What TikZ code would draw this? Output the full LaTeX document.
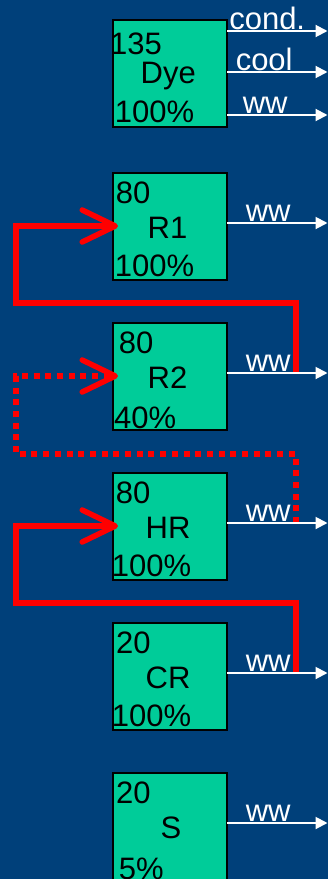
\documentclass[tikz,border=0pt]{standalone}
\usepackage{fontspec}
\setmainfont{Liberation Sans}
\usetikzlibrary{calc,arrows.meta,positioning}
\definecolor{bgblue}{RGB}{0,64,122}
\definecolor{unitgreen}{RGB}{0,204,153}
\tikzset{
  unitbox/.style={draw=black, line width=2pt, fill=unitgreen, minimum width=114pt,
    minimum height=107pt, inner sep=0pt, outer sep=0pt},
  boxtext/.style={anchor=base west, inner sep=0pt, font=\fontsize{31}{36}\selectfont},
  outlet/.style={draw=white, line width=2pt, -{Triangle[length=12pt,width=12pt]}},
  lbl/.style={text=white, anchor=base, inner sep=0pt, yshift=2pt,
    font=\fontsize{31}{36}\selectfont},
  recycle/.style={draw=red, line width=5.5pt, -{Straight Barb[length=33pt,width=32pt,round]}},
  partial/.style={recycle, dash pattern=on 6pt off 5.7pt}
}

\begin{document}
\begin{tikzpicture}[x=1pt, y=-1pt, node distance=43pt]
  \fill[bgblue] (0,0) rectangle (328,879);
  \useasboundingbox (0,0) rectangle (328,879);

  % process units
  \node[unitbox] (dye) at (170,73) {};
  \node[unitbox, below=46pt of dye] (r1) {};
  \node[unitbox, below=of r1] (r2) {};
  \node[unitbox, below=of r2] (hr) {};
  \node[unitbox, below=of hr] (cr) {};
  \node[unitbox, below=of cr] (s) {};

  \node[boxtext] (dyeT) at ($(dye.north west)+(-3,34.5)$) {135};
  \node[boxtext] (dyeN) at ($(dye.north west)+(27.5,63.5)$) {Dye};
  \node[boxtext] (dyeP) at ($(dye.north west)+(1.6,102.5)$) {100\%};

  \node[boxtext] (r1T) at ($(r1.north west)+(2.6,30.5)$) {80};
  \node[boxtext] (r1N) at ($(r1.north west)+(34.5,65.5)$) {R1};
  \node[boxtext] (r1P) at ($(r1.north west)+(1.6,103.5)$) {100\%};

  \node[boxtext] (r2T) at ($(r2.north west)+(5.6,30.5)$) {80};
  \node[boxtext] (r2N) at ($(r2.north west)+(34.5,65.5)$) {R2};
  \node[boxtext] (r2P) at ($(r2.north west)+(1,105.5)$) {40\%};

  \node[boxtext] (hrT) at ($(hr.north west)+(2.6,30.5)$) {80};
  \node[boxtext] (hrN) at ($(hr.north west)+(32.5,65.5)$) {HR};
  \node[boxtext] (hrP) at ($(hr.north west)+(-1.4,103.5)$) {100\%};

  \node[boxtext] (crT) at ($(cr.north west)+(3,30.5)$) {20};
  \node[boxtext] (crN) at ($(cr.north west)+(32.5,65.5)$) {CR};
  \node[boxtext] (crP) at ($(cr.north west)+(-1.4,103.5)$) {100\%};

  \node[boxtext] (sT) at ($(s.north west)+(3,30.5)$) {20};
  \node[boxtext] (sN) at ($(s.north west)+(47.5,65.5)$) {S};
  \node[boxtext] (sP) at ($(s.north west)+(5.6,106.5)$) {5\%};

  % recycled water
  \coordinate (r2tap) at (296,373);
  \coordinate (hrtap) at (296,523);
  \coordinate (crtap) at (296,673);
  \draw[recycle] (r2tap) |- (16,303) |- ([xshift=5pt]r1.west);
  \draw[partial] (hrtap) |- (16,454) |- ([xshift=5pt]r2.west);
  \draw[recycle] (crtap) |- (16,603) |- ([xshift=5pt]hr.west);

  % outlets
  \coordinate (dyeC) at (327.5,31);
  \coordinate (dyeK) at (327.5,72);
  \coordinate (dyeW) at (327.5,115);
  \coordinate (r1W) at (327.5,223);
  \coordinate (r2W) at (327.5,373);
  \coordinate (hrW) at (327.5,523);
  \coordinate (crW) at (327.5,673);
  \coordinate (sW) at (327.5,823);
  \draw[outlet] (dyeC -| dye.east) -- (dyeC) node[lbl, pos=0.4] (lcond) {cond.};
  \draw[outlet] (dyeK -| dye.east) -- (dyeK) node[lbl, pos=0.37] (lcool) {cool};
  \draw[outlet] (dyeW -| dye.east) -- (dyeW) node[lbl, pos=0.38] (ldye) {ww};
  \draw[outlet] (r1W -| r1.east) -- (r1W) node[lbl, pos=0.41] (lr1) {ww};
  \draw[outlet] (r2W -| r2.east) -- (r2W) node[lbl, pos=0.41] (lr2) {ww};
  \draw[outlet] (hrW -| hr.east) -- (hrW) node[lbl, pos=0.41] (lhr) {ww};
  \draw[outlet] (crW -| cr.east) -- (crW) node[lbl, pos=0.41] (lcr) {ww};
  \draw[outlet] (sW -| s.east) -- (sW) node[lbl, pos=0.41] (ls) {ww};
\end{tikzpicture}
\end{document}
